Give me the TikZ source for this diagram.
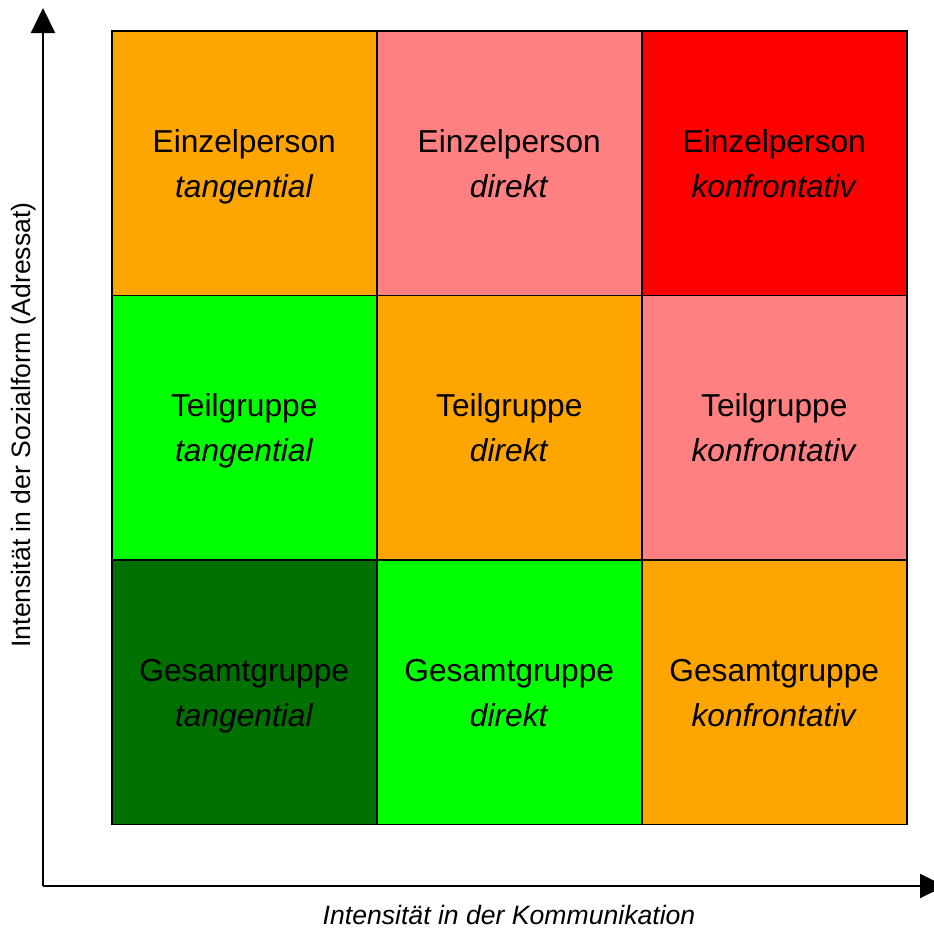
\documentclass[tikz,border=0pt]{standalone}
\usepackage{fontspec}
\setmainfont{Liberation Sans}
\usetikzlibrary{arrows.meta}
\definecolor{corange}{HTML}{FFA500}
\definecolor{cpink}{HTML}{FF8080}
\definecolor{cred}{HTML}{FF0000}
\definecolor{cgreen}{HTML}{00FF00}
\definecolor{cdark}{HTML}{007000}
\newcommand{\celltwo}[2]{\strut#1\\\strut\textit{#2}}
\tikzset{
  cell/.style={draw=black, line width=1.5pt, minimum width=265pt, minimum height=264.5pt, inner sep=0pt, anchor=north west},
  celltext/.style={font=\fontsize{31.7}{45}\selectfont, align=center, anchor=center, inner sep=0pt, yshift=-2.6pt},
  axis/.style={line width=2pt, -{Triangle[length=25pt,width=24pt]}},
  axislabel/.style={font=\fontsize{26.6}{30}\selectfont}
}
\begin{document}
\begin{tikzpicture}[x=1pt,y=-1pt]
\useasboundingbox (0,0) rectangle (934,929);
% cells
\node[cell, fill=corange] (c11) at (111,30) {};
\node[cell, fill=cpink] (c12) at (376,30) {};
\node[cell, fill=cred] (c13) at (641,30) {};
\node[cell, fill=cgreen] (c21) at (111,294.5) {};
\node[cell, fill=corange] (c22) at (376,294.5) {};
\node[cell, fill=cpink] (c23) at (641,294.5) {};
\node[cell, fill=cdark] (c31) at (111,559) {};
\node[cell, fill=cgreen] (c32) at (376,559) {};
\node[cell, fill=corange] (c33) at (641,559) {};
% texts
\node[celltext] (t11) at (c11.center) {\celltwo{Einzelperson}{tangential}};
\node[celltext] (t12) at (c12.center) {\celltwo{Einzelperson}{direkt}};
\node[celltext] (t13) at (c13.center) {\celltwo{Einzelperson}{konfrontativ}};
\node[celltext] (t21) at (c21.center) {\celltwo{Teilgruppe}{tangential}};
\node[celltext] (t22) at (c22.center) {\celltwo{Teilgruppe}{direkt}};
\node[celltext] (t23) at (c23.center) {\celltwo{Teilgruppe}{konfrontativ}};
\node[celltext] (t31) at (c31.center) {\celltwo{Gesamtgruppe}{tangential}};
\node[celltext] (t32) at (c32.center) {\celltwo{Gesamtgruppe}{direkt}};
\node[celltext] (t33) at (c33.center) {\celltwo{Gesamtgruppe}{konfrontativ}};
% axes
\coordinate (origin) at (43,886);
\coordinate (ytip) at (43,8);
\coordinate (xtip) at (945,886);
\draw[axis] (origin) -- (ytip);
\draw[axis] (origin) -- (xtip);
\node[axislabel] (xlabel) at (509,915) {\textit{Intensität in der Kommunikation}};
\node[axislabel, rotate=90] (ylabel) at (24,425) {Intensität in der Sozialform (Adressat)};
\end{tikzpicture}
\end{document}
